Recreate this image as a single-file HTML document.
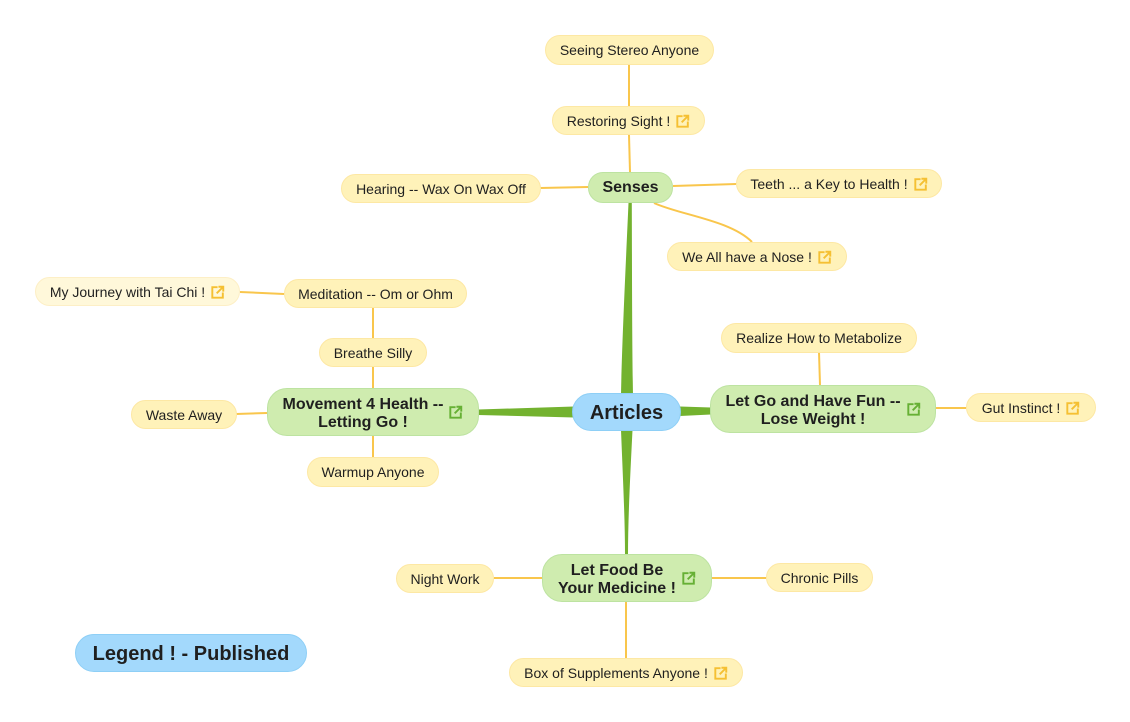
<!DOCTYPE html>
<html>
<head>
<meta charset="utf-8">
<style>
  html,body{margin:0;padding:0;background:#fff;}
  body{width:1130px;height:722px;position:relative;overflow:hidden;font-family:"Liberation Sans",Arial,Helvetica,sans-serif;color:#1f1f1f;}
  svg.lines{position:absolute;left:0;top:0;}
  .n{position:absolute;box-sizing:border-box;display:flex;align-items:center;justify-content:center;white-space:nowrap;}
  .y{background:#fff2b9;border:1px solid #fde8a4;border-radius:15px;font-size:14px;}
  .p{background:#fff8da;border:1px solid #fdefc6;border-radius:15px;font-size:14px;}
  .g{background:#cfecaf;border:1px solid #bde3a1;border-radius:20px;font-size:16px;font-weight:bold;}
  .b{background:#a3d9fc;border:1px solid #8ecff6;border-radius:19px;font-size:20px;font-weight:bold;}
  .b span{position:relative;top:1px;}
  .t2{text-align:center;line-height:18px;position:relative;top:2px;}
  .ic{width:14px;height:14px;margin-left:6px;flex:none;}
</style>
</head>
<body>
<svg class="lines" width="1130" height="722" viewBox="0 0 1130 722">
  <g fill="#73b22f">
    <path d="M621,395 C622,340 626,260 628.5,203 L631.8,203 C632,260 632,340 633,395 Z"/>
    <path d="M621,430 C623,480 625,520 625,555 L628,555 C628,520 630,480 632.5,430 Z"/>
    <path d="M574,406.5 L478,409.5 L478,415 L574,417.5 Z"/>
    <path d="M680,406.5 L711,407.5 L711,414.5 L680,416 Z"/>
  </g>
  <g stroke="#f9c64c" stroke-width="2" fill="none">
    <path d="M629,64 L629,106"/>
    <path d="M629,135 L630,172"/>
    <path d="M588,187 L540,188"/>
    <path d="M673,186 L736,184"/>
    <path d="M654,203 C680,215 730,220 752,242"/>
    <path d="M284,294 L240,292"/>
    <path d="M373,308 L373,338"/>
    <path d="M373,367 L373,388"/>
    <path d="M267,413 L236,414"/>
    <path d="M373,436 L373,457"/>
    <path d="M820,385 L819,352"/>
    <path d="M936,408 L966,408"/>
    <path d="M542,578 L494,578"/>
    <path d="M711,578 L766,578"/>
    <path d="M626,602 L626,658"/>
  </g>
</svg>

<svg width="0" height="0" style="position:absolute">
  <defs>
    <symbol id="lk" viewBox="0 0 16 16">
      <path d="M7.5 2.5 H1.5 V14.5 H13.5 V8.5 M6.5 9.5 L14 2 M8.5 2 H14 V7.5" fill="none" stroke="currentColor" stroke-width="2.2" stroke-linecap="butt" stroke-linejoin="miter"/>
    </symbol>
  </defs>
</svg>

<div class="n y" style="left:545px;top:35px;width:169px;height:30px;">Seeing Stereo Anyone</div>
<div class="n y" style="left:552px;top:106px;width:153px;height:29px;">Restoring Sight !<svg class="ic" style="color:#f5c033"><use href="#lk"/></svg></div>
<div class="n g" style="left:588px;top:172px;width:85px;height:31px;border-radius:15px;">Senses</div>
<div class="n y" style="left:341px;top:174px;width:200px;height:29px;">Hearing -- Wax On Wax Off</div>
<div class="n y" style="left:736px;top:169px;width:206px;height:29px;">Teeth ... a Key to Health !<svg class="ic" style="color:#f5c033"><use href="#lk"/></svg></div>
<div class="n y" style="left:667px;top:242px;width:180px;height:29px;">We All have a Nose !<svg class="ic" style="color:#f5c033"><use href="#lk"/></svg></div>

<div class="n p" style="left:35px;top:277px;width:205px;height:29px;">My Journey with Tai Chi !<svg class="ic" style="color:#f5c033"><use href="#lk"/></svg></div>
<div class="n y" style="left:284px;top:279px;width:183px;height:29px;">Meditation -- Om or Ohm</div>
<div class="n y" style="left:319px;top:338px;width:108px;height:29px;">Breathe Silly</div>
<div class="n g" style="left:267px;top:388px;width:212px;height:48px;"><div class="t2">Movement 4 Health --<br>Letting Go !</div><svg class="ic" style="color:#66b034"><use href="#lk"/></svg></div>
<div class="n y" style="left:131px;top:400px;width:106px;height:29px;">Waste Away</div>
<div class="n y" style="left:307px;top:457px;width:132px;height:30px;">Warmup Anyone</div>

<div class="n b" style="left:572px;top:393px;width:109px;height:38px;"><span>Articles</span></div>

<div class="n y" style="left:721px;top:323px;width:196px;height:30px;">Realize How to Metabolize</div>
<div class="n g" style="left:710px;top:385px;width:226px;height:48px;"><div class="t2">Let Go and Have Fun --<br>Lose Weight !</div><svg class="ic" style="color:#66b034"><use href="#lk"/></svg></div>
<div class="n y" style="left:966px;top:393px;width:130px;height:29px;">Gut Instinct !<svg class="ic" style="color:#f5c033"><use href="#lk"/></svg></div>

<div class="n g" style="left:542px;top:554px;width:170px;height:48px;"><div class="t2">Let Food Be<br>Your Medicine !</div><svg class="ic" style="color:#66b034"><use href="#lk"/></svg></div>
<div class="n y" style="left:396px;top:564px;width:98px;height:29px;">Night Work</div>
<div class="n y" style="left:766px;top:563px;width:107px;height:29px;">Chronic Pills</div>
<div class="n y" style="left:509px;top:658px;width:234px;height:29px;">Box of Supplements Anyone !<svg class="ic" style="color:#f5c033"><use href="#lk"/></svg></div>

<div class="n b" style="left:75px;top:634px;width:232px;height:38px;"><span>Legend ! - Published</span></div>
</body>
</html>
